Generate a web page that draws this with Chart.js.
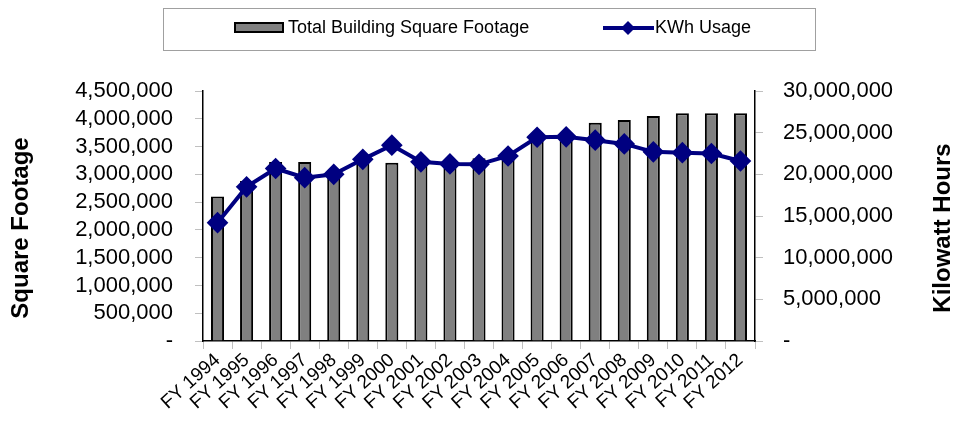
<!DOCTYPE html>
<html>
<head>
<meta charset="utf-8">
<script src="https://cdn.jsdelivr.net/npm/chart.js@4/dist/chart.umd.min.js"></script>
<style>
html,body{margin:0;padding:0;background:#fff;}
#wrap{width:956px;height:421px;position:relative;}
</style>
</head>
<body>
<div id="wrap"><canvas id="c" width="956" height="421"></canvas></div>
<script>
const categories = ["FY 1994","FY 1995","FY 1996","FY 1997","FY 1998","FY 1999","FY 2000","FY 2001","FY 2002","FY 2003","FY 2004","FY 2005","FY 2006","FY 2007","FY 2008","FY 2009","FY 2010","FY 2011","FY 2012"];
const squareFootage = [2600000,2880000,3220000,3220000,3020000,3300000,3210000,3230000,3230000,3290000,3300000,3680000,3690000,3930000,3980000,4050000,4100000,4100000,4100000];
const kwhUsage = [14200000,18500000,20700000,19600000,20000000,21800000,23500000,21500000,21250000,21200000,22200000,24450000,24500000,24100000,23650000,22700000,22600000,22500000,21600000];
const leftTicks = {min:0, max:4500000, step:500000};
const rightTicks = {min:0, max:30000000, step:5000000};
const seriesNames = ["Total Building Square Footage","KWh Usage"];
const axisTitles = ["Square Footage","Kilowatt Hours"];

const fmt = v => v === 0 ? '-' : v.toLocaleString('en-US');
const FONT = '"Liberation Sans", Arial, sans-serif';

const decorPlugin = {
  id: 'decor',
  afterDraw(chart) {
    const ctx = chart.ctx;
    ctx.save();
    // legend box
    ctx.strokeStyle = '#a0a0a0';
    ctx.lineWidth = 1;
    ctx.strokeRect(163.5, 8.5, 652, 42);
    // bar swatch
    ctx.fillStyle = '#808080';
    ctx.strokeStyle = '#000';
    ctx.lineWidth = 2;
    ctx.fillRect(235, 23, 48, 9);
    ctx.strokeRect(235, 23, 48, 9);
    ctx.fillStyle = '#000';
    ctx.font = '18px ' + FONT;
    ctx.textBaseline = 'middle';
    ctx.textAlign = 'left';
    ctx.fillText(seriesNames[0], 288, 28);
    // line swatch
    ctx.strokeStyle = '#000080';
    ctx.lineWidth = 4;
    ctx.beginPath(); ctx.moveTo(603, 28); ctx.lineTo(654, 28); ctx.stroke();
    ctx.fillStyle = '#000080';
    ctx.beginPath(); ctx.moveTo(628, 21); ctx.lineTo(635, 28); ctx.lineTo(628, 35); ctx.lineTo(621, 28); ctx.closePath(); ctx.fill();
    ctx.fillStyle = '#000';
    ctx.fillText(seriesNames[1], 655, 28);
    // axis titles (both read bottom-to-top)
    ctx.font = 'bold 24px ' + FONT;
    ctx.textAlign = 'center';
    ctx.textBaseline = 'middle';
    [[21, axisTitles[0]], [943, axisTitles[1]]].forEach(([x, t]) => {
      ctx.save();
      ctx.translate(x, 228);
      ctx.rotate(-Math.PI / 2);
      ctx.fillText(t, 0, 0);
      ctx.restore();
    });
    ctx.restore();
  }
};

new Chart(document.getElementById('c'), {
  data: {
    labels: categories,
    datasets: [
      {
        type: 'line', label: seriesNames[1], data: kwhUsage, yAxisID: 'y2',
        borderColor: '#000080', backgroundColor: '#000080', borderWidth: 4,
        pointStyle: 'rectRot', pointRadius: 8, pointHoverRadius: 8,
        tension: 0, order: 1
      },
      {
        type: 'bar', label: seriesNames[0], data: squareFootage, yAxisID: 'y',
        backgroundColor: '#808080', borderColor: '#000', borderWidth: 2,
        barPercentage: 0.45, categoryPercentage: 1, order: 2
      }
    ]
  },
  options: {
    responsive: false,
    animation: false,
    layout: {padding: {top: 91, left: 0, right: 0, bottom: 0}},
    plugins: {legend: {display: false}, tooltip: {enabled: false}},
    scales: {
      x: {
        offset: true,
        grid: {offset: true, drawOnChartArea: false, drawTicks: true, tickLength: 8, color: '#c0c0c0'},
        border: {color: '#000', width: 1.5},
        ticks: {color: '#000', font: {family: FONT, size: 19}, maxRotation: 42, minRotation: 42, autoSkip: false, padding: 0},
        afterFit: s => { s.height = 80; }
      },
      y: {
        position: 'left', min: leftTicks.min, max: leftTicks.max,
        grid: {drawOnChartArea: false, drawTicks: true, tickLength: 8, color: '#c0c0c0'},
        border: {color: '#000', width: 1.5},
        ticks: {stepSize: leftTicks.step, autoSkip: false, color: '#000', font: {family: FONT, size: 22}, padding: 22, callback: v => fmt(v)},
        afterFit: s => { s.width = 203; }
      },
      y2: {
        position: 'right', min: rightTicks.min, max: rightTicks.max,
        grid: {drawOnChartArea: false, drawTicks: true, tickLength: 8, color: '#c0c0c0'},
        border: {color: '#000', width: 1.5},
        ticks: {stepSize: rightTicks.step, autoSkip: false, color: '#000', font: {family: FONT, size: 22}, padding: 20, callback: v => fmt(v)},
        afterFit: s => { s.width = 201; }
      }
    }
  },
  plugins: [decorPlugin]
});
</script>
</body>
</html>
